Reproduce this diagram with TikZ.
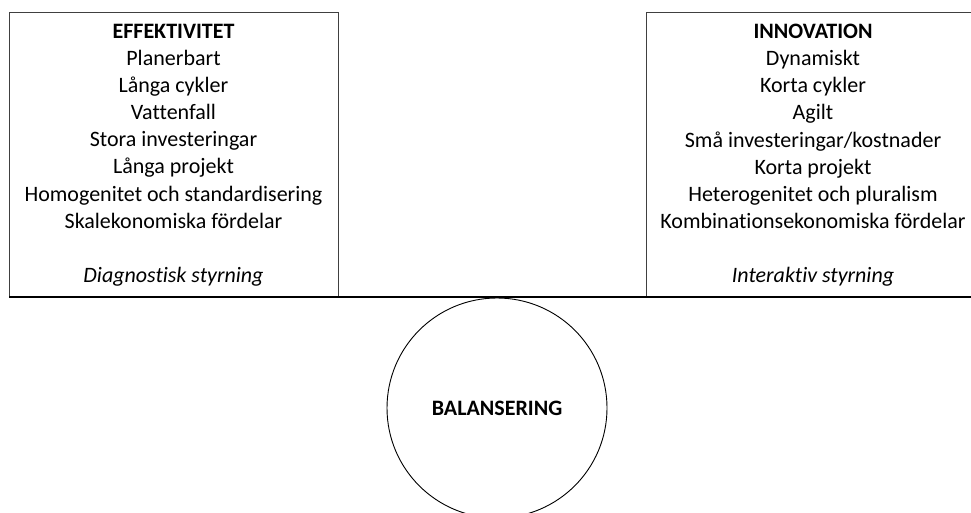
\documentclass[tikz,border=0pt]{standalone}
\usepackage{fontspec}
\setmainfont{Carlito}[Ligatures=NoCommon]
\begin{document}
\begin{tikzpicture}[x=1pt,y=-1pt,
  panel/.style={draw=black!75, line width=1.1pt, inner sep=0pt, anchor=north west},
  paneltext/.style={align=center, inner sep=0pt, anchor=north, font=\fontsize{22}{27.1}\selectfont},
  beam/.style={line width=2.6pt, black},
  pivot/.style={draw, circle, line width=0.9pt, minimum size=220pt, inner sep=0pt, font=\fontsize{22}{27.1}\selectfont\bfseries}]
\useasboundingbox[fill=white] (0,0) rectangle (971,513);
% panels
\node[panel, minimum width=329pt, minimum height=285pt] (effbox) at (9,12) {};
\node[panel, minimum width=334pt, minimum height=285pt] (innbox) at (646,12) {};
% texts
\node[paneltext] (efftext) at (173.5,24) {\textbf{EFFEKTIVITET}\\Planerbart\\Långa cykler\\Vattenfall\\Stora investeringar\\Långa projekt\\Homogenitet och standardisering\\Skalekonomiska fördelar\\[27.1pt]\textit{Diagnostisk styrning}};
\node[paneltext] (inntext) at (813,24) {\textbf{INNOVATION}\\Dynamiskt\\Korta cykler\\Agilt\\Små investeringar/kostnader\\Korta projekt\\Heterogenitet och pluralism\\Kombinationsekonomiska fördelar\\[27.1pt]\textit{Interaktiv styrning}};
% beam
\coordinate (beamL) at (9,297);
\coordinate (beamR) at (971,297);
\draw[beam] (beamL) -- (beamR);
% pivot
\node[pivot] (bal) at (497,408) {BALANSERING};
\end{tikzpicture}
\end{document}
